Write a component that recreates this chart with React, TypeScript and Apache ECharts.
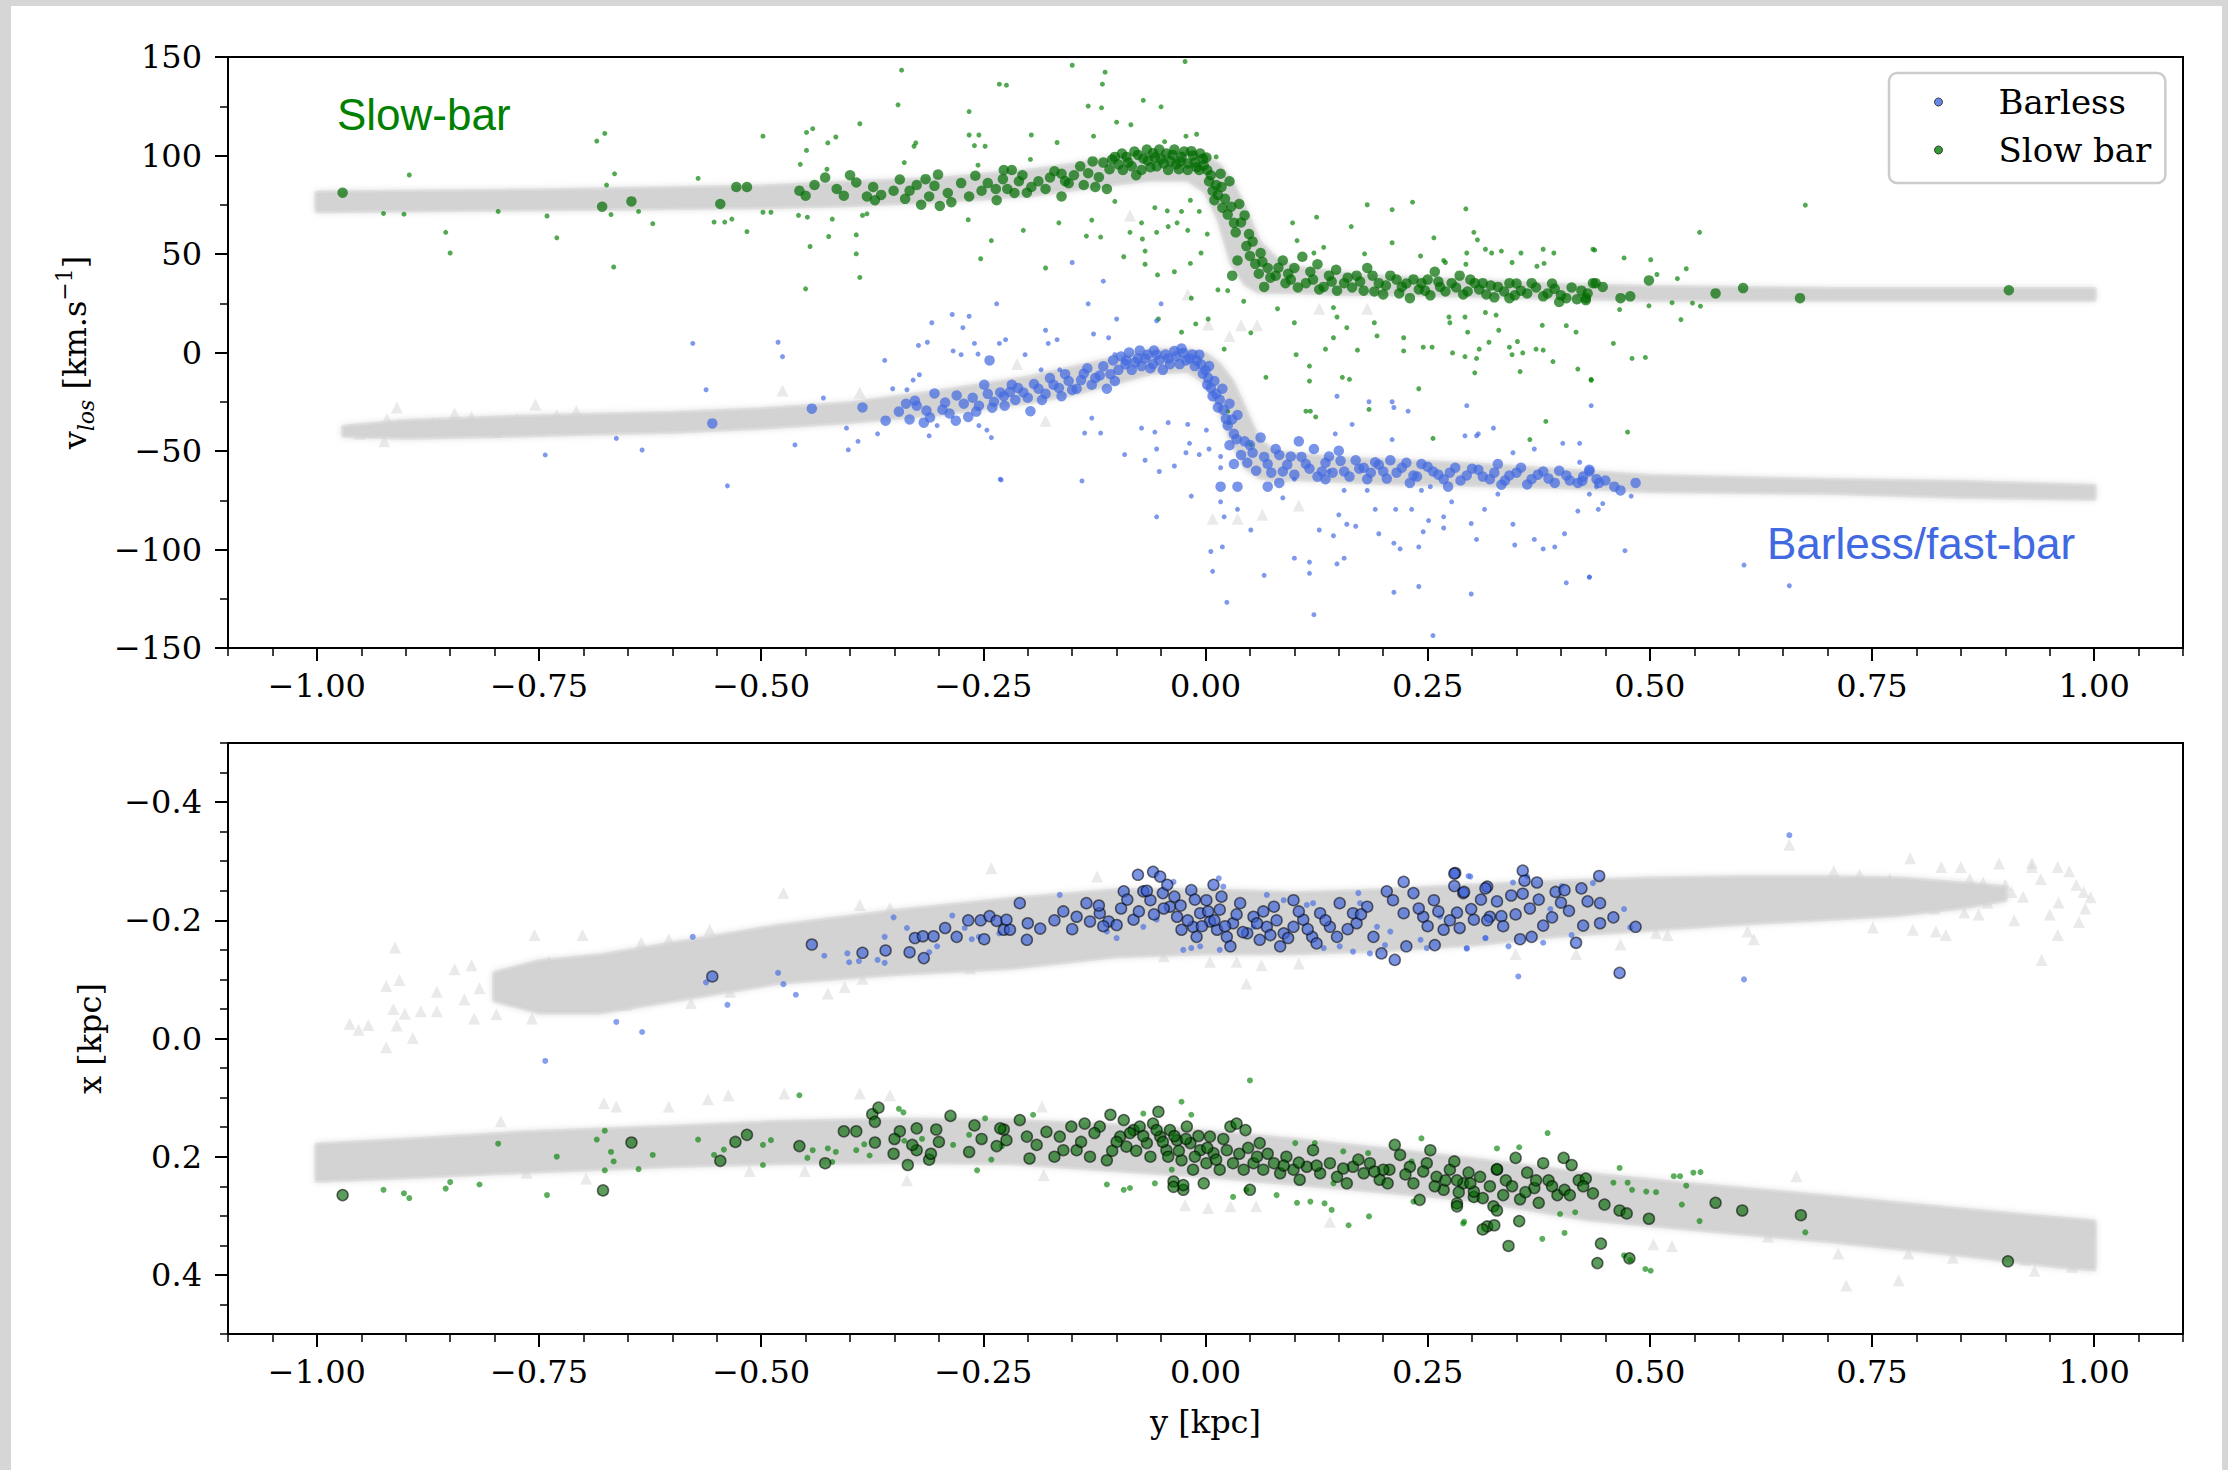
import React, { useEffect, useRef } from "react";
import * as echarts from "echarts";

// ---------- tick labels ----------
const Y_KPC_TICKS = [-1, -0.75, -0.5, -0.25, 0, 0.25, 0.5, 0.75, 1];
const X_KPC_TICKS = [-0.4, -0.2, 0, 0.2, 0.4];

// ---------- simulation bands: [y, low, high] ----------
const TOP_SLOW_BAND = [
  [-1.0, 72, 81], [-0.75, 73, 82], [-0.5, 74, 84], [-0.4, 75, 86], [-0.3, 77, 88], [-0.2, 80, 92],
  [-0.15, 83, 95], [-0.1, 86, 99], [-0.06, 88, 101], [-0.02, 88, 101], [0.0, 82, 99], [0.015, 68, 95],
  [0.03, 45, 86], [0.045, 35, 72], [0.06, 31, 56], [0.08, 31, 47], [0.1, 31, 43], [0.15, 30, 40],
  [0.2, 30, 38], [0.3, 29, 36], [0.4, 28, 34], [0.5, 27, 33], [0.7, 27, 32], [1.0, 27, 32],
];
const TOP_BARLESS_BAND = [
  [-0.97, -42, -38], [-0.9, -43, -35], [-0.78, -42, -33], [-0.7, -41, -32], [-0.6, -40, -31],
  [-0.5, -38, -29], [-0.4, -35, -26], [-0.3, -31, -20], [-0.2, -25, -13], [-0.15, -21, -8], [-0.1, -15, -3],
  [-0.06, -10, 1], [-0.02, -9, 1], [0.0, -15, -1], [0.015, -28, -6], [0.03, -45, -15], [0.045, -58, -30],
  [0.06, -63, -45], [0.08, -65, -51], [0.1, -64, -52], [0.15, -65, -54], [0.2, -66, -55],
  [0.3, -67, -57], [0.4, -68, -60], [0.5, -70, -63], [0.7, -71, -65], [0.85, -73, -66], [1.0, -74, -68],
];
const BOT_BARLESS_BAND = [
  [-0.8, -0.11, -0.065], [-0.75, -0.13, -0.045], [-0.68, -0.14, -0.045], [-0.6, -0.16, -0.065],
  [-0.48, -0.19, -0.095], [-0.35, -0.215, -0.11], [-0.22, -0.235, -0.12], [-0.1, -0.25, -0.14],
  [0.0, -0.25, -0.145], [0.1, -0.245, -0.145], [0.2, -0.25, -0.15], [0.3, -0.258, -0.16],
  [0.4, -0.265, -0.175], [0.5, -0.27, -0.185], [0.6, -0.272, -0.195], [0.7, -0.272, -0.203],
  [0.78, -0.27, -0.21], [0.85, -0.262, -0.222], [0.9, -0.255, -0.235],
];
const BOT_SLOW_BAND = [
  [-1.0, 0.18, 0.24], [-0.9, 0.172, 0.234], [-0.77, 0.16, 0.225], [-0.6, 0.15, 0.215],
  [-0.48, 0.142, 0.21], [-0.35, 0.138, 0.208], [-0.22, 0.14, 0.21], [-0.1, 0.148, 0.222],
  [0.0, 0.158, 0.232], [0.1, 0.172, 0.245], [0.2, 0.188, 0.258], [0.3, 0.205, 0.272],
  [0.43, 0.23, 0.305], [0.55, 0.248, 0.322], [0.7, 0.268, 0.342], [0.85, 0.29, 0.365],
  [0.96, 0.305, 0.385], [1.0, 0.31, 0.39],
];

// ---------- sparse simulation particles (triangles) ----------
const TOP_SIM_TRI = [
  [-0.963, -39.4], [-0.952, -41.3], [-0.94, -40.4], [-0.924, -45.1], [-0.921, -33.7], [-0.91, -27.9],
  [-0.907, -36.5], [-0.896, -39.4], [-0.87, -35.6], [-0.865, -39.4], [-0.845, -30.8], [-0.837, -38.4],
  [-0.826, -32.7], [-0.817, -36.5], [-0.798, -40.4], [-0.786, -37.5], [-0.775, -33.7], [-0.764, -38.4],
  [-0.754, -26.4], [-0.742, -36.5], [-0.73, -31.7], [-0.708, -29.8], [-0.476, -19.3], [-0.389, -20.3],
  [0.003, 14.2], [0.027, 8.4], [0.04, 13.8], [0.058, 13.8], [-0.02, 29.5], [0.008, -84.4], [0.036, -84.4],
  [0.064, -82.4], [0.105, -77.7], [0.182, 22.2], [0.128, 22.2], [-0.212, -5.9], [-0.18, -34.6], [-0.085, 69.6],
];
const BOT_SIM_TRI = [
  [-0.963, -0.025], [-0.953, -0.015], [-0.942, -0.023], [-0.922, 0.015], [-0.912, -0.154], [-0.922, -0.089],
  [-0.907, -0.099], [-0.914, -0.05], [-0.901, -0.042], [-0.91, -0.022], [-0.892, -0.001], [-0.883, -0.046],
  [-0.865, -0.079], [-0.865, -0.046], [-0.845, -0.117], [-0.826, -0.124], [-0.834, -0.066], [-0.817, -0.085],
  [-0.823, -0.034], [-0.798, -0.041], [-0.775, -0.066], [-0.758, -0.034], [-0.755, -0.175], [-0.739, -0.13],
  [-0.73, -0.105], [-0.708, -0.111], [-0.701, -0.175], [-0.635, -0.162], [-0.604, -0.168], [-0.558, -0.184],
  [-0.475, -0.246], [-0.389, -0.226], [-0.355, -0.221], [-0.241, -0.288], [-0.406, -0.087], [-0.386, -0.101],
  [-0.425, -0.076], [-0.265, -0.119], [-0.652, -0.057], [-0.579, -0.06], [-0.535, -0.079],
  [-0.677, 0.109], [-0.663, 0.115], [-0.793, 0.14], [-0.604, 0.115], [-0.56, 0.103], [-0.537, 0.096],
  [-0.474, 0.093], [-0.389, 0.093], [-0.355, 0.096], [-0.764, 0.227], [-0.697, 0.237], [-0.513, 0.224],
  [-0.336, 0.24], [-0.451, 0.224], [-0.023, 0.282], [0.003, 0.287], [0.028, 0.284], [0.057, 0.284],
  [0.14, 0.31], [0.046, -0.093], [0.005, -0.13], [0.035, -0.13], [0.063, -0.124], [0.105, -0.127],
  [-0.122, -0.274], [-0.213, -0.144], [-0.179, -0.144], [-0.151, -0.147], [-0.047, -0.139], [-0.184, 0.115],
  [-0.182, 0.231], [0.793, -0.305], [0.828, -0.29], [0.893, -0.296], [0.93, -0.297], [0.959, -0.29],
  [0.972, -0.283], [0.988, -0.248], [0.996, -0.239], [0.751, -0.188], [0.796, -0.184], [0.822, -0.181],
  [0.833, -0.175], [0.959, -0.175], [0.983, -0.197], [0.941, -0.133], [0.854, -0.213], [0.875, -0.264],
  [0.907, -0.248], [0.77, -0.27], [0.736, -0.277], [0.707, -0.283], [0.617, -0.168], [0.61, -0.181],
  [0.507, -0.178], [0.52, -0.175], [0.467, -0.159], [0.417, -0.143], [0.349, -0.143], [0.657, -0.328],
  [0.8, -0.26], [0.84, -0.25], [0.86, -0.27], [0.88, -0.23], [0.9, -0.26], [0.92, -0.24], [0.94, -0.27],
  [0.96, -0.23], [0.98, -0.26], [0.82, -0.22], [0.87, -0.21], [0.91, -0.2], [0.95, -0.21], [0.99, -0.22],
  [0.85, -0.29], [0.93, -0.29],
  [0.665, 0.233], [0.633, 0.335], [0.712, 0.364], [0.78, 0.409], [0.721, 0.418], [0.504, 0.348],
  [0.525, 0.351], [0.988, 0.364], [0.996, 0.32], [0.975, 0.386], [0.933, 0.393], [0.854, 0.297],
  [0.822, 0.291], [0.791, 0.364], [0.841, 0.371], [0.922, 0.374],
];

// ---------- top panel: line-of-sight velocity ----------
const TOP_SLOW_BIG = [
  [-0.971, 81.1], [-0.679, 74], [-0.646, 76.7], [-0.546, 75.4], [-0.528, 84], [-0.516, 84], [-0.457, 82.1],
  [-0.45, 79.6], [-0.428, 88.8], [-0.407, 79.6], [-0.393, 86.3], [-0.381, 79.2], [-0.374, 84], [-0.372, 77.3],
  [-0.351, 82.1], [-0.344, 87.8], [-0.333, 82.1], [-0.325, 85], [-0.32, 75], [-0.311, 79.2], [-0.305, 84.6],
  [-0.301, 90.3], [-0.299, 74.4], [-0.286, 76.3], [-0.266, 79.2], [-0.259, 89.7], [-0.252, 82.1], [-0.235, 77.3],
  [-0.227, 92.6], [-0.218, 92.6], [-0.223, 83], [-0.21, 86.9], [-0.201, 81.1], [-0.188, 86.9], [-0.175, 88.8],
  [-0.162, 79.2], [-0.162, 90.7], [-0.154, 85.9], [-0.141, 94.5], [-0.137, 85], [-0.124, 84], [-0.115, 96.4],
  [-0.111, 83], [-0.102, 99.3], [-0.093, 92.6], [-0.089, 99.3], [-0.083, 94.5], [-0.076, 100.3], [-0.072, 92.6],
  [-0.065, 97.4], [-0.059, 101.2], [-0.055, 94.5], [-0.05, 98.3], [-0.042, 92.6], [-0.037, 100.3], [-0.033, 95.5],
  [-0.027, 99.3], [-0.02, 92.6], [-0.016, 102.2], [-0.012, 96.4], [-0.007, 92.6], [-0.003, 98.3], [0.002, 92.6],
  [0.004, 86.9], [0.008, 82.1], [0.01, 77.3], [0.017, 90.7], [0.019, 73.5], [0.027, 86.9], [0.032, 65.8],
  [0.038, 75.4], [0.044, 69.6], [0.049, 60.1], [0.053, 56.3], [0.036, 46.7], [0.03, 39], [0.062, 50.5],
  [0.07, 42.9], [0.066, 33.3], [0.079, 39], [0.087, 46.7], [0.09, 35.2], [0.1, 42.9], [0.109, 48.6],
  [0.113, 35.2], [0.126, 44.8], [0.133, 33.3], [0.139, 39], [0.156, 35.2], [0.17, 39], [0.182, 42.9],
  [0.195, 35.2], [0.208, 39], [0.221, 33.3], [0.234, 37.1], [0.247, 31.4], [0.258, 41], [0.264, 33.3],
  [0.277, 35.2], [0.29, 29.5], [0.303, 35.2], [0.316, 29.5], [0.329, 33.3], [0.342, 27.6], [0.355, 31.4],
  [0.367, 35.2], [0.38, 28.5], [0.393, 32.3], [0.406, 27.6], [0.423, 31.4], [0.436, 35.2], [0.148, 31.4],
  [0.178, 31.4], [0.2, 29.5], [0.23, 27.6], [0.286, 39], [0.342, 35.2], [0.398, 25.6], [0.428, 26.6],
  [0.243, 35.2], [0.312, 35.2], [0.428, 27.6], [0.439, 35.2], [0.447, 33.3], [0.467, 27.6], [0.478, 28.5],
  [0.499, 36.6], [0.574, 30], [0.605, 32.7], [0.669, 27.6], [0.904, 31.6],
  [-0.098, 95.5], [-0.094, 101], [-0.087, 96.5], [-0.08, 102], [-0.078, 90], [-0.07, 98.5], [-0.066, 103],
  [-0.062, 94], [-0.057, 99], [-0.052, 103], [-0.047, 96], [-0.044, 101], [-0.039, 97], [-0.035, 103],
  [-0.03, 93], [-0.028, 97], [-0.024, 102], [-0.02, 96], [-0.014, 100], [-0.01, 94], [-0.006, 101],
  [-0.002, 95], [0.001, 99], [0.006, 90], [0.012, 85], [0.014, 80], [0.018, 84], [0.022, 78], [0.025, 70],
  [0.029, 74], [0.034, 61], [0.04, 66], [0.046, 54], [0.05, 49], [0.056, 45], [0.06, 40], [0.064, 46],
  [0.073, 38], [0.082, 43], [0.093, 40], [0.096, 37], [0.104, 33], [0.118, 41], [0.121, 37], [0.128, 32],
  [0.142, 36], [0.147, 42], [0.16, 38], [0.165, 33], [0.174, 36], [0.188, 39], [0.19, 31], [0.203, 34],
  [0.215, 37], [0.218, 30], [0.226, 35], [0.24, 32], [0.25, 37], [0.253, 29], [0.262, 36], [0.27, 31],
  [0.282, 33], [0.295, 31], [0.298, 37], [0.308, 32], [0.321, 34], [0.325, 28], [0.336, 31], [0.348, 29],
  [0.35, 35], [0.362, 30], [0.372, 33], [0.385, 30], [0.39, 35], [0.4, 29], [0.412, 33], [0.418, 27],
  [0.43, 30], [-0.245, 86], [-0.236, 83], [-0.228, 88], [-0.215, 81], [-0.206, 90], [-0.196, 84],
  [-0.18, 83], [-0.17, 92], [-0.158, 87], [-0.148, 90], [-0.132, 91], [-0.127, 97], [-0.12, 89],
  [-0.108, 93], [-0.105, 98], [-0.44, 85], [-0.415, 83], [-0.4, 90], [-0.365, 80], [-0.338, 78],
  [-0.315, 88], [-0.29, 81], [-0.275, 86],
];
const TOP_SLOW_SMALL = [
  [-0.896, 90.1], [-0.925, 70.6], [-0.902, 70.2], [-0.855, 61], [-0.85, 50.5], [-0.796, 71.6], [-0.741, 69.3],
  [-0.73, 58.2], [-0.685, 107.3], [-0.676, 111.2], [-0.674, 85], [-0.665, 90.7], [-0.669, 70], [-0.666, 43.4],
  [-0.638, 71.6], [-0.622, 65.4], [-0.571, 88.4], [-0.553, 66.2], [-0.541, 66.2], [-0.533, 67.7], [-0.516, 61.4],
  [-0.498, 109.8], [-0.498, 71.2], [-0.489, 71.2], [-0.458, 69.6], [-0.448, 68.7], [-0.449, 111.7], [-0.442, 113.6],
  [-0.449, 102.6], [-0.456, 95.5], [-0.425, 106.4], [-0.416, 109.4], [-0.426, 93], [-0.42, 67.7], [-0.424, 58.9],
  [-0.445, 53.8], [-0.45, 32.3], [-0.393, 59.7], [-0.393, 50.1], [-0.389, 38.1], [-0.389, 116.1], [-0.346, 125.7],
  [-0.342, 143.3], [-0.326, 106.4], [-0.328, 104.7], [-0.339, 96.4], [-0.386, 69.6], [-0.381, 70.4], [-0.266, 122.3],
  [-0.266, 110.4], [-0.255, 110.4], [-0.26, 105], [-0.248, 104.7], [-0.256, 95.1], [-0.267, 67.4], [-0.241, 56.8],
  [-0.253, 47.6], [-0.232, 136.2], [-0.224, 135.7], [-0.15, 145.8], [-0.113, 142.3], [-0.116, 136.2],
  [-0.023, 147.7], [-0.132, 125.1], [-0.117, 124.2], [-0.07, 128], [-0.05, 124.7], [-0.1, 116.9], [-0.084, 115.6],
  [-0.196, 110.4], [-0.167, 106.6], [-0.126, 109.8], [-0.197, 98], [-0.205, 62], [-0.18, 42.9], [-0.165, 65.8],
  [-0.128, 67.2], [-0.134, 59.1], [-0.118, 58.6], [-0.102, 76.7], [-0.085, 61], [-0.072, 65.8], [-0.071, 57.6],
  [-0.068, 51.5], [-0.092, 48.6], [-0.068, 44.8], [-0.055, 61], [-0.054, 39.4], [-0.042, 63.9], [-0.035, 41],
  [-0.032, 65.8], [-0.02, 62], [-0.017, 45.2], [-0.005, 50.5], [0.002, 60.1], [-0.007, 71.6], [-0.043, 71.9],
  [-0.057, 73.5], [-0.027, 71.6], [-0.017, 77.3], [-0.022, 109.8], [-0.01, 110.8], [-0.046, 107], [0.012, 99.3],
  [-0.016, 27.6], [0.014, 31.8], [0.025, 31.4], [-0.053, 17], [-0.011, 14.5], [-0.027, 10.3], [0.003, 17],
  [0.021, 1.7], [0.051, 10], [0.043, 26], [0.081, 22.2], [0.1, 15.1], [0.102, -1.1], [0.117, -6.9],
  [0.117, -14.5], [0.068, -12.6], [0.118, -29.8], [0.124, -32.7], [0.098, 65.8], [0.125, 68.7], [0.103, 56.8],
  [0.122, 50.5], [0.133, 53.4], [0.144, 22.8], [0.148, 18], [0.159, 12.6], [0.135, 1.7], [0.144, 7.5],
  [0.154, -12.6], [0.162, -13.6], [0.171, 1.2], [0.182, 75], [0.21, 72.5], [0.233, 76.3], [0.164, 63.9],
  [0.179, 50.1], [0.21, 55.7], [0.19, 15.1], [0.193, 8.4], [0.223, 7.5], [0.223, 0.8], [0.245, 2.7],
  [0.255, 2.7], [0.24, -18.4], [0.257, 58.2], [0.242, 49], [0.268, 46.7], [0.293, 72.9], [0.302, 61],
  [0.306, 57.2], [0.315, 52.4], [0.294, 50.5], [0.322, 50.5], [0.333, 51.5], [0.355, 50.5], [0.345, 45.7],
  [0.38, 52.4], [0.392, 50.5], [0.373, 43.8], [0.381, 45.2], [0.27, 45.7], [0.293, 44.8], [0.436, 52.4],
  [0.274, 18], [0.275, 15.1], [0.292, 18], [0.295, 10.3], [0.315, 20.3], [0.327, 19], [0.33, 11.3],
  [0.278, -0.2], [0.308, 1.7], [0.319, 5.2], [0.292, -2.1], [0.305, -3], [0.303, -10.3], [0.342, 2.7],
  [0.351, 5.6], [0.345, -1.1], [0.357, -0.2], [0.354, -9.7], [0.372, 1.7], [0.38, 1.2], [0.379, 13.8],
  [0.391, -4.6], [0.417, 10.3], [0.406, 13.6], [0.419, -8.4], [0.434, -13.6], [0.383, -35], [0.365, -44.2],
  [0.256, -43.6], [0.184, -28.9], [0.113, -29.8], [0.025, -29.8], [0.026, -35.6], [0.051, -46.7],
  [0.438, 52], [0.471, 48], [0.501, 47.1], [0.508, 39.6], [0.531, 37.5], [0.541, 42.5], [0.556, 61],
  [0.675, 74.8], [0.466, 21.8], [0.499, 23.7], [0.525, 25.3], [0.548, 25.1], [0.557, 23.5], [0.535, 16.7],
  [0.459, 4.6], [0.48, -3], [0.495, -2.5], [0.434, -14.1], [0.475, -40.4],
];
const TOP_BARLESS_BIG = [
  [-0.555, -36], [-0.443, -28.5], [-0.386, -27.9], [-0.36, -34.6], [-0.333, -34], [-0.317, -35.6], [-0.327, -24.5],
  [-0.325, -27], [-0.314, -29.5], [-0.305, -20.8], [-0.293, -25.4], [-0.28, -21.8], [-0.281, -34.6], [-0.267, -32.7],
  [-0.255, -27], [-0.249, -16.4], [-0.243, -4], [-0.238, -25], [-0.231, -20.3], [-0.227, -22.2], [-0.218, -16.4],
  [-0.214, -24.1], [-0.205, -20.3], [-0.197, -29.8], [-0.188, -18.4], [-0.184, -24.1], [-0.171, -16.4],
  [-0.162, -22.2], [-0.154, -14.5], [-0.145, -18.4], [-0.137, -10.7], [-0.128, -16.4], [-0.119, -11.7],
  [-0.111, -18.4], [-0.102, -14.5], [-0.098, -8.8], [-0.089, -4], [-0.083, -8.8], [-0.076, -3], [-0.072, -6.9],
  [-0.065, -1.1], [-0.059, -5.9], [-0.055, -1.1], [-0.048, -8.8], [-0.042, -3], [-0.035, 0.8], [-0.029, -5.9],
  [-0.025, -0.2], [-0.018, -3], [-0.012, -6.9], [-0.007, -1.1], [-0.003, -10.7], [0.002, -16.4], [0.004, -6.9],
  [0.008, -22.2], [0.01, -14.5], [0.014, -27.9], [0.019, -18.4], [0.023, -33.7], [0.027, -26], [0.032, -41.3],
  [0.036, -31.7], [0.027, -47.1], [0.032, -56.6], [0.017, -68.1], [0.044, -45.1], [0.053, -50.9], [0.062, -43.2],
  [0.07, -56.6], [0.079, -49], [0.087, -60.4], [0.096, -52.8], [0.105, -45.1], [0.113, -56.6], [0.122, -49],
  [0.131, -60.4], [0.139, -52.8], [0.15, -49.9], [0.156, -60.4], [0.169, -54.7], [0.178, -58.5], [0.191, -55.7],
  [0.2, -60.4], [0.208, -54.7], [0.221, -58.5], [0.234, -62.4], [0.243, -56.6], [0.256, -60.4], [0.268, -64.3],
  [0.281, -58.5], [0.294, -62.4], [0.307, -59.5], [0.32, -64.3], [0.329, -56.6], [0.342, -62.4], [0.355, -58.5],
  [0.367, -64.3], [0.38, -60.4], [0.393, -66.2], [0.406, -62.4], [0.419, -66.2], [0.432, -60.4], [0.44, -64.3],
  [0.083, -66.2], [0.036, -68.1], [0.07, -68.1], [0.135, -64.3], [0.182, -64.3], [0.23, -66.2], [0.273, -68.1],
  [0.333, -67.1], [0.424, -65.2], [0.432, -59.5], [0.443, -66.2], [0.46, -68.1], [0.467, -70], [0.484, -66.2],
  [-0.345, -30], [-0.337, -26], [-0.31, -33], [-0.296, -29], [-0.288, -31], [-0.272, -26], [-0.262, -23],
  [-0.258, -30], [-0.245, -21], [-0.24, -28], [-0.226, -27], [-0.22, -20], [-0.211, -18], [-0.2, -23],
  [-0.193, -16], [-0.18, -21], [-0.175, -13], [-0.165, -18], [-0.158, -11], [-0.15, -19], [-0.14, -14],
  [-0.133, -8], [-0.124, -13], [-0.115, -7], [-0.107, -11], [-0.104, -4], [-0.095, -2], [-0.09, -6],
  [-0.086, 0], [-0.079, -5], [-0.074, 1], [-0.068, -3], [-0.062, -8], [-0.058, 1], [-0.052, -4], [-0.045, -1],
  [-0.04, -6], [-0.033, -2], [-0.027, 2], [-0.022, -4], [-0.015, -1], [-0.01, -4], [-0.005, -6], [0, -9],
  [0.003, -13], [0.006, -18], [0.012, -21], [0.016, -24], [0.02, -29], [0.025, -37], [0.03, -34], [0.035, -44],
  [0.04, -52], [0.047, -56], [0.05, -47], [0.057, -60], [0.066, -53], [0.074, -61], [0.083, -52], [0.092, -57],
  [0.1, -62], [0.108, -53], [0.117, -59], [0.126, -63], [0.135, -56], [0.143, -61], [0.152, -55], [0.162, -63],
  [0.173, -59], [0.186, -61], [0.195, -57], [0.204, -64], [0.215, -61], [0.226, -56], [0.238, -63], [0.25, -58],
  [0.262, -62], [0.275, -61], [0.287, -65], [0.3, -59], [0.312, -63], [0.325, -61], [0.337, -65], [0.35, -61],
  [0.362, -67], [0.374, -62], [0.386, -64], [0.398, -60], [0.41, -65], [0.425, -63], [0.45, -65],
];
const TOP_BARLESS_SMALL = [
  [-0.577, 4.6], [-0.481, 5.2], [-0.476, -2.1], [-0.562, -18.9], [-0.43, -23.1], [-0.663, -43.6], [-0.634, -49.5],
  [-0.743, -52], [-0.538, -67.7], [-0.462, -46.9], [-0.404, -38.4], [-0.391, -45.1], [-0.402, -49.4], [-0.369, -41.3],
  [-0.361, -4], [-0.352, -18.4], [-0.336, -18.9], [-0.329, -14], [-0.322, -11.3], [-0.323, 3.6], [-0.313, 5.2],
  [-0.308, 15.1], [-0.285, 19.3], [-0.266, 18.4], [-0.273, 12.6], [-0.284, 0.8], [-0.275, -1.1], [-0.26, 4.6],
  [-0.256, -0.8], [-0.235, 24.7], [-0.232, 4.6], [-0.311, -42.3], [-0.302, -37.1], [-0.255, -37.1], [-0.246, -39.4],
  [-0.241, -43.2], [-0.23, -64.7], [-0.15, 45.7], [-0.115, 36.2], [-0.132, 24.7], [-0.05, 24.7], [-0.1, 17],
  [-0.18, 11.3], [-0.177, 4.6], [-0.167, 6.5], [-0.126, 9.4], [-0.109, 7.5], [-0.225, 6.5], [-0.203, -1.1],
  [-0.185, -8.8], [-0.164, -8.8], [-0.055, 16.1], [-0.102, -1.1], [-0.231, -64.3], [-0.139, -65.2], [-0.128, -33.3],
  [-0.136, -40.9], [-0.118, -40.9], [-0.091, -51.8], [-0.072, -38.4], [-0.068, -54.7], [-0.057, -40.4],
  [-0.055, -49], [-0.052, -60.4], [-0.055, -83.4], [-0.042, -35.6], [-0.035, -57.6], [-0.022, -50.9],
  [-0.02, -36.5], [-0.016, -72.9], [-0.018, -46.1], [-0.007, -51.8], [0.001, -39.4], [0.004, -49], [0.006, -101],
  [0.008, -111.1], [0.017, -75.8], [0.019, -98.7], [0.021, -83.4], [0.024, -126.8], [0.017, -58.5], [0.017, -52.8],
  [0.036, -79.6], [0.051, -90.1], [0.066, -113.1], [0.087, -73.8], [0.1, -104.4], [0.1, -64.3], [0.117, -106.4],
  [0.117, -112.1], [0.122, -133.1], [0.128, -90.1], [0.144, -93], [0.148, -107.3], [0.15, -82.4], [0.156, -104.4],
  [0.159, -87.2], [0.169, -88.2], [0.148, -22.2], [0.184, -25], [0.165, -36.5], [0.146, -41.3], [0.21, -25],
  [0.212, -27.9], [0.228, -29.8], [0.21, -44.2], [0.191, -79.6], [0.195, -92], [0.212, -96.8], [0.219, -99.7],
  [0.212, -121.7], [0.232, -79.6], [0.24, -98.7], [0.245, -91], [0.251, -85.3], [0.256, -143.7], [0.24, -118.8],
  [0.268, -83.4], [0.268, -89.1], [0.294, -27], [0.292, -42.3], [0.314, -79.6], [0.299, -86.8], [0.305, -94.9],
  [0.299, -122.6], [0.324, -38.4], [0.346, -87.2], [0.348, -97.7], [0.37, -94.9], [0.38, -99.7], [0.393, -98.7],
  [0.404, -92], [0.406, -116.9], [0.432, -114], [0.419, -80.5], [0.421, -55.7], [0.44, -68.1], [0.402, -46.1],
  [0.421, -46.1], [0.37, -49], [0.346, -50.9], [0.329, -71.9], [0.277, -75.8], [0.243, -70], [0.214, -79.6],
  [0.182, -70], [0.156, -70], [0.139, -60.4], [0.305, -42.3], [0.307, -41.3], [0.253, -68.1], [0.434, -27],
  [0.432, -71.9], [0.442, -79.6], [0.447, -76.7], [0.479, -72.9], [0.472, -100.6], [0.432, -114], [0.606, -107.9],
  [0.657, -118.4],
];

// ---------- bottom panel: positions ----------
const BOT_BARLESS_BIG = [
  [-0.443, -0.159], [-0.555, -0.105], [-0.386, -0.145], [-0.36, -0.149], [-0.333, -0.146], [-0.317, -0.136],
  [-0.327, -0.17], [-0.318, -0.173], [-0.306, -0.173], [-0.293, -0.187], [-0.28, -0.172], [-0.267, -0.2],
  [-0.253, -0.2], [-0.243, -0.207], [-0.235, -0.199], [-0.249, -0.168], [-0.227, -0.184], [-0.22, -0.184],
  [-0.201, -0.167], [-0.186, -0.186], [-0.209, -0.229], [-0.224, -0.201], [-0.16, -0.215], [-0.145, -0.206],
  [-0.134, -0.229], [-0.13, -0.198], [-0.119, -0.212], [-0.109, -0.198], [-0.1, -0.192], [-0.092, -0.249],
  [-0.081, -0.201], [-0.076, -0.277], [-0.07, -0.249], [-0.059, -0.282], [-0.051, -0.274], [-0.062, -0.234],
  [-0.048, -0.246], [-0.04, -0.223], [-0.032, -0.206], [-0.027, -0.184], [-0.016, -0.251], [-0.014, -0.189],
  [-0.01, -0.172], [-0.006, -0.212], [0.001, -0.234], [0.005, -0.198], [0.009, -0.26], [0.013, -0.184],
  [0.016, -0.218], [0.024, -0.172], [0.031, -0.195], [0.028, -0.156], [0.039, -0.229], [0.047, -0.178],
  [0.054, -0.206], [0.061, -0.167], [0.069, -0.189], [0.077, -0.223], [0.084, -0.156], [0.088, -0.178],
  [0.099, -0.234], [0.099, -0.189], [0.11, -0.201], [0.12, -0.172], [0.129, -0.212], [0.14, -0.189],
  [0.151, -0.229], [0.148, -0.172], [0.17, -0.195], [0.182, -0.223], [0.189, -0.172], [0.198, -0.144],
  [0.204, -0.249], [0.213, -0.133], [0.223, -0.265], [0.226, -0.156], [0.234, -0.246], [0.245, -0.206],
  [0.257, -0.234], [0.258, -0.158], [0.268, -0.184], [0.281, -0.28], [0.29, -0.246], [0.302, -0.201],
  [0.317, -0.257], [0.32, -0.206], [0.223, -0.212], [0.211, -0.234], [0.166, -0.212], [0.125, -0.161],
  [0.28, -0.279], [0.28, -0.258], [0.291, -0.248], [0.283, -0.213], [0.286, -0.187], [0.299, -0.219],
  [0.315, -0.254], [0.317, -0.2], [0.328, -0.232], [0.333, -0.207], [0.344, -0.242], [0.349, -0.21],
  [0.357, -0.284], [0.357, -0.245], [0.359, -0.267], [0.354, -0.168], [0.367, -0.172], [0.373, -0.264],
  [0.375, -0.235], [0.38, -0.191], [0.394, -0.248], [0.404, -0.251], [0.409, -0.216], [0.417, -0.162],
  [0.423, -0.254], [0.425, -0.191], [0.43, -0.232], [0.443, -0.275], [0.444, -0.229], [0.444, -0.195],
  [0.459, -0.205], [0.484, -0.189], [0.466, -0.111],
  [-0.095, -0.22], [-0.088, -0.235], [-0.075, -0.215], [-0.066, -0.25], [-0.058, -0.21], [-0.047, -0.22],
  [-0.043, -0.26], [-0.035, -0.24], [-0.028, -0.225], [-0.02, -0.2], [-0.012, -0.235], [-0.004, -0.19],
  [0.003, -0.215], [0.01, -0.2], [0.018, -0.24], [0.022, -0.19], [0.035, -0.21], [0.042, -0.18],
  [0.058, -0.195], [0.065, -0.215], [0.073, -0.175], [0.08, -0.2], [0.093, -0.17], [0.105, -0.215],
  [0.115, -0.185], [0.135, -0.2], [0.16, -0.185], [0.175, -0.21], [0.24, -0.22], [0.25, -0.19],
  [0.262, -0.215], [0.275, -0.2], [0.31, -0.235], [0.335, -0.19], [0.365, -0.22], [0.39, -0.205],
  [0.4, -0.23], [-0.2, -0.195], [-0.17, -0.2], [-0.15, -0.185], [-0.12, -0.225], [-0.115, -0.19],
];
const BOT_BARLESS_SMALL = [
  [-0.577, -0.172], [-0.351, -0.205], [-0.429, -0.14], [-0.403, -0.144], [-0.401, -0.129], [-0.39, -0.131],
  [-0.369, -0.133], [-0.361, -0.172], [-0.361, -0.128], [-0.336, -0.187], [-0.311, -0.146], [-0.302, -0.156],
  [-0.285, -0.208], [-0.271, -0.187], [-0.263, -0.168], [-0.255, -0.172], [-0.232, -0.178], [-0.562, -0.095],
  [-0.538, -0.057], [-0.481, -0.111], [-0.475, -0.092], [-0.461, -0.074], [-0.663, -0.028], [-0.634, -0.011],
  [-0.743, 0.038], [-0.164, -0.243], [-0.111, -0.181], [-0.1, -0.17], [-0.07, -0.189], [-0.055, -0.201],
  [-0.036, -0.265], [-0.025, -0.15], [-0.016, -0.153], [-0.006, -0.156], [0.015, -0.271], [0.02, -0.257],
  [0.016, -0.15], [0.069, -0.243], [0.088, -0.234], [0.114, -0.226], [0.133, -0.153], [0.151, -0.156],
  [0.166, -0.147], [0.172, -0.246], [0.185, -0.144], [0.202, -0.158], [0.208, -0.181], [0.242, -0.167],
  [0.249, -0.153], [0.264, -0.206], [0.294, -0.153], [0.298, -0.274], [0.315, -0.17], [0.174, -0.229],
  [0.193, -0.189], [0.054, -0.189], [0.121, -0.229], [0.296, -0.275], [0.315, -0.17], [0.294, -0.152],
  [0.341, -0.156], [0.352, -0.105], [0.346, -0.264], [0.362, -0.274], [0.38, -0.162], [0.388, -0.219],
  [0.401, -0.258], [0.412, -0.175], [0.436, -0.263], [0.471, -0.219], [0.478, -0.188], [0.606, -0.1],
  [0.657, -0.344],
];
const BOT_SLOW_BIG = [
  [-0.971, 0.265], [-0.678, 0.257], [-0.646, 0.176], [-0.546, 0.207], [-0.529, 0.175], [-0.516, 0.163],
  [-0.457, 0.182], [-0.428, 0.211], [-0.407, 0.157], [-0.393, 0.157], [-0.372, 0.176], [-0.375, 0.128],
  [-0.368, 0.117], [-0.372, 0.141], [-0.351, 0.195], [-0.344, 0.157], [-0.335, 0.214], [-0.325, 0.152],
  [-0.325, 0.189], [-0.311, 0.205], [-0.309, 0.195], [-0.303, 0.154], [-0.287, 0.131], [-0.266, 0.192],
  [-0.26, 0.147], [-0.252, 0.17], [-0.235, 0.182], [-0.227, 0.154], [-0.231, 0.152], [-0.224, 0.172],
  [-0.209, 0.138], [-0.201, 0.166], [-0.198, 0.203], [-0.179, 0.158], [-0.164, 0.166], [-0.16, 0.189],
  [-0.151, 0.149], [-0.145, 0.189], [-0.136, 0.144], [-0.13, 0.2], [-0.119, 0.149], [-0.111, 0.206],
  [-0.107, 0.129], [-0.096, 0.166], [-0.092, 0.138], [-0.089, 0.183], [-0.081, 0.155], [-0.074, 0.149],
  [-0.066, 0.177], [-0.059, 0.144], [-0.053, 0.124], [-0.051, 0.166], [-0.044, 0.189], [-0.04, 0.155],
  [-0.036, 0.242], [-0.032, 0.172], [-0.027, 0.206], [-0.025, 0.256], [-0.021, 0.149], [-0.017, 0.177],
  [-0.014, 0.222], [-0.006, 0.189], [-0.002, 0.245], [0.001, 0.211], [0.005, 0.166], [0.009, 0.194],
  [0.016, 0.222], [0.024, 0.189], [0.028, 0.149], [0.031, 0.211], [0.035, 0.144], [0.045, 0.155],
  [0.043, 0.222], [0.05, 0.256], [0.054, 0.211], [0.061, 0.177], [0.065, 0.222], [0.077, 0.211],
  [0.084, 0.228], [0.091, 0.2], [0.099, 0.222], [0.106, 0.239], [0.114, 0.217], [0.121, 0.189],
  [0.129, 0.228], [0.14, 0.211], [0.148, 0.234], [0.159, 0.245], [0.166, 0.217], [0.178, 0.228],
  [0.185, 0.211], [0.196, 0.239], [0.207, 0.222], [0.213, 0.18], [0.219, 0.197], [0.23, 0.217],
  [0.234, 0.245], [0.241, 0.273], [0.249, 0.211], [0.253, 0.189], [0.26, 0.234], [0.268, 0.256],
  [0.275, 0.222], [0.283, 0.279], [0.29, 0.245], [0.302, 0.268], [0.309, 0.234], [0.317, 0.318],
  [0.324, 0.284], [0.328, 0.222], [-0.036, 0.251], [-0.025, 0.248], [0.2, 0.222], [0.28, 0.208],
  [0.283, 0.24], [0.283, 0.284], [0.296, 0.227], [0.302, 0.259], [0.312, 0.323], [0.325, 0.316],
  [0.328, 0.291], [0.328, 0.221], [0.338, 0.24], [0.341, 0.351], [0.349, 0.202], [0.354, 0.272],
  [0.353, 0.309], [0.362, 0.227], [0.37, 0.253], [0.375, 0.278], [0.38, 0.211], [0.386, 0.24],
  [0.396, 0.265], [0.404, 0.256], [0.403, 0.202], [0.412, 0.214], [0.42, 0.24], [0.428, 0.237],
  [0.436, 0.262], [0.449, 0.281], [0.445, 0.347], [0.441, 0.38], [0.466, 0.291], [0.474, 0.296],
  [0.477, 0.372], [0.499, 0.305], [0.574, 0.278], [0.604, 0.291], [0.67, 0.299], [0.903, 0.377],
  [-0.1, 0.175], [-0.085, 0.16], [-0.078, 0.19], [-0.07, 0.165], [-0.062, 0.2], [-0.055, 0.155],
  [-0.048, 0.175], [-0.042, 0.2], [-0.035, 0.165], [-0.03, 0.19], [-0.022, 0.17], [-0.012, 0.2],
  [-0.008, 0.165], [0.002, 0.185], [0.012, 0.205], [0.02, 0.17], [0.038, 0.195], [0.048, 0.185],
  [0.058, 0.2], [0.07, 0.195], [0.088, 0.215], [0.105, 0.21], [0.125, 0.215], [0.155, 0.22],
  [0.172, 0.205], [0.19, 0.225], [0.205, 0.245], [0.225, 0.23], [0.245, 0.225], [0.258, 0.25],
  [0.27, 0.24], [0.285, 0.26], [0.298, 0.245], [0.312, 0.27], [0.32, 0.25], [0.335, 0.265],
  [0.345, 0.25], [0.36, 0.26], [0.372, 0.24], [0.39, 0.25], [0.41, 0.265], [0.425, 0.25],
  [-0.19, 0.18], [-0.17, 0.2], [-0.14, 0.175], [-0.125, 0.16], [-0.105, 0.19], [-0.35, 0.17],
  [-0.33, 0.18], [-0.3, 0.175],
];
const BOT_SLOW_SMALL = [
  [-0.925, 0.256], [-0.902, 0.262], [-0.896, 0.27], [-0.855, 0.254], [-0.85, 0.243], [-0.817, 0.247],
  [-0.796, 0.178], [-0.741, 0.265], [-0.73, 0.2], [-0.685, 0.171], [-0.676, 0.156], [-0.669, 0.192],
  [-0.666, 0.208], [-0.676, 0.223], [-0.638, 0.221], [-0.622, 0.197], [-0.571, 0.171], [-0.553, 0.197],
  [-0.542, 0.188], [-0.498, 0.18], [-0.489, 0.172], [-0.498, 0.214], [-0.457, 0.096], [-0.448, 0.202],
  [-0.442, 0.189], [-0.425, 0.186], [-0.416, 0.192], [-0.42, 0.209], [-0.393, 0.189], [-0.384, 0.179],
  [-0.378, 0.198], [-0.345, 0.119], [-0.34, 0.125], [-0.339, 0.173], [-0.319, 0.17], [-0.284, 0.18],
  [-0.266, 0.163], [-0.257, 0.223], [-0.248, 0.135], [-0.241, 0.205], [-0.229, 0.182], [-0.194, 0.129],
  [-0.07, 0.127], [-0.027, 0.107], [0.05, 0.071], [-0.111, 0.247], [-0.092, 0.256], [-0.085, 0.253],
  [-0.057, 0.245], [-0.038, 0.222], [-0.016, 0.129], [0.08, 0.265], [0.103, 0.278], [0.118, 0.276],
  [0.134, 0.279], [0.142, 0.29], [0.161, 0.316], [0.184, 0.301], [0.101, 0.177], [0.123, 0.177],
  [0.155, 0.191], [0.183, 0.194], [0.234, 0.276], [0.243, 0.169], [0.29, 0.313], [0.232, 0.208],
  [0.144, 0.245], [0.031, 0.268], [0.046, 0.256], [0.291, 0.31], [0.328, 0.186], [0.353, 0.184],
  [0.385, 0.16], [0.379, 0.339], [0.404, 0.329], [0.399, 0.297], [0.416, 0.294], [0.466, 0.219],
  [0.459, 0.244], [0.475, 0.244], [0.48, 0.256], [0.496, 0.259], [0.507, 0.26], [0.527, 0.233],
  [0.534, 0.233], [0.549, 0.227], [0.557, 0.226], [0.541, 0.249], [0.536, 0.281], [0.556, 0.309],
  [0.675, 0.328], [0.471, 0.367], [0.478, 0.375], [0.495, 0.39], [0.501, 0.393],
];

// ---------- styling ----------
const GREEN = "#008000";
const BLUE = "#4169e1";
const GRAY = "#d3d3d3";
const SERIF = "DejaVu Serif";
const minus = (s: string) => s.replace("-", "\u2212");

function bandSeries(band: number[][], xi: number, yi: number) {
  return {
    type: "custom",
    xAxisIndex: xi,
    yAxisIndex: yi,
    silent: true,
    data: band,
    encode: { x: 0, y: [1, 2] },
    renderItem: (params: any, api: any) => {
      if (params.dataIndex !== 0) return null;
      const upper = band.map((r) => api.coord([r[0], r[2]]));
      const lower = band.map((r) => api.coord([r[0], r[1]])).reverse();
      return {
        type: "polygon",
        shape: { points: upper.concat(lower) },
        style: {
          fill: GRAY,
          stroke: "rgba(211,211,211,0.5)",
          lineWidth: 5,
          lineJoin: "round",
          shadowBlur: 6,
          shadowColor: "rgba(200,200,200,0.9)",
        },
      };
    },
  };
}

function scatter(name: string, data: number[][], xi: number, yi: number, size: number, itemStyle: any, symbol = "circle") {
  return {
    type: "scatter",
    name,
    data,
    xAxisIndex: xi,
    yAxisIndex: yi,
    symbol,
    symbolSize: size,
    itemStyle,
    silent: true,
    emphasis: { disabled: true },
  };
}

const tickLine = { color: "#000", width: 2 };
const minorLine = { color: "#000", width: 1.5 };
const labelStyle = { color: "#000", fontFamily: SERIF, fontSize: 32 };

function mainX(grid: number, name?: string) {
  return {
    type: "value",
    gridIndex: grid,
    position: "bottom",
    min: -1.1,
    max: 1.1,
    name,
    nameLocation: "middle",
    nameGap: 72,
    nameTextStyle: { color: "#000", fontFamily: SERIF, fontSize: 32 },
    axisLine: { show: false, onZero: false },
    axisTick: { show: true, customValues: Y_KPC_TICKS, length: 13, lineStyle: tickLine },
    axisLabel: { ...labelStyle, margin: 22, customValues: Y_KPC_TICKS, formatter: (v: number) => minus(v.toFixed(2)) },
    splitLine: { show: false },
  };
}
function minorX(grid: number) {
  return {
    type: "value",
    gridIndex: grid,
    position: "bottom",
    min: -1.1,
    max: 1.1,
    interval: 0.05,
    axisLine: { show: false, onZero: false },
    axisTick: { show: true, length: 8, lineStyle: minorLine },
    axisLabel: { show: false },
    splitLine: { show: false },
  };
}

export default function App() {
  const ref = useRef<HTMLDivElement>(null);
  useEffect(() => {
    if (!ref.current) return;
    const chart = echarts.init(ref.current, undefined, { renderer: "svg" });
    const bigEdge = "rgba(0,0,0,0.7)";
    chart.setOption({
      animation: false,
      backgroundColor: "#d6d6d6",
      grid: [
        { left: 228, top: 57, width: 1955, height: 591, show: true, borderColor: "#000", borderWidth: 2, backgroundColor: "transparent" },
        { left: 228, top: 743, width: 1955, height: 591, show: true, borderColor: "#000", borderWidth: 2, backgroundColor: "transparent" },
      ],
      xAxis: [mainX(0), minorX(0), mainX(1, "y [kpc]"), minorX(1)],
      yAxis: [
        {
          type: "value",
          gridIndex: 0,
          min: -150,
          max: 150,
          interval: 50,
          name: "{i|v}{s|los}{i| [km.s}{p|\u22121}{i|]}",
          nameLocation: "middle",
          nameRotate: 90,
          nameGap: 131,
          nameTextStyle: {
            color: "#000",
            fontFamily: SERIF,
            fontSize: 32,
            rich: {
              i: { fontFamily: SERIF, fontSize: 32, lineHeight: 44, color: "#000" },
              s: { fontFamily: SERIF, fontSize: 22, fontStyle: "italic", lineHeight: 22, verticalAlign: "bottom", color: "#000" },
              p: { fontFamily: SERIF, fontSize: 22, lineHeight: 22, verticalAlign: "top", color: "#000" },
            },
          },
          axisLine: { show: false, onZero: false },
          axisTick: { show: true, length: 13, lineStyle: tickLine },
          minorTick: { show: true, splitNumber: 2, length: 8, lineStyle: minorLine },
          axisLabel: { ...labelStyle, margin: 26, formatter: (v: number) => minus(String(v)) },
          splitLine: { show: false },
          minorSplitLine: { show: false },
        },
        {
          type: "value",
          gridIndex: 1,
          inverse: true,
          min: -0.5,
          max: 0.5,
          name: "x [kpc]",
          nameLocation: "middle",
          nameRotate: 90,
          nameGap: 122,
          nameTextStyle: { color: "#000", fontFamily: SERIF, fontSize: 32 },
          axisLine: { show: false, onZero: false },
          axisTick: { show: true, customValues: X_KPC_TICKS, length: 13, lineStyle: tickLine },
          axisLabel: { ...labelStyle, margin: 26, customValues: X_KPC_TICKS, formatter: (v: number) => minus(v.toFixed(1)) },
          splitLine: { show: false },
        },
        {
          type: "value",
          gridIndex: 1,
          inverse: true,
          min: -0.5,
          max: 0.5,
          interval: 0.05,
          position: "left",
          axisLine: { show: false, onZero: false },
          axisTick: { show: true, length: 8, lineStyle: minorLine },
          axisLabel: { show: false },
          splitLine: { show: false },
        },
      ],
      legend: {
        left: 1889,
        top: 73,
        orient: "vertical",
        selectedMode: false,
        padding: [9, 14, 13, 45],
        itemGap: 8,
        itemWidth: 8,
        itemHeight: 8,
        icon: "circle",
        borderColor: "#cccccc",
        borderWidth: 2.5,
        borderRadius: 8,
        backgroundColor: "#ffffff",
        textStyle: { fontFamily: SERIF, fontSize: 34, color: "#000", lineHeight: 40, padding: [0, 0, 0, 51] },
        data: [
          { name: "Barless", itemStyle: { color: BLUE, borderColor: "#222", borderWidth: 1 } },
          { name: "Slow bar", itemStyle: { color: GREEN, borderColor: "#222", borderWidth: 1 } },
        ],
      },
      graphic: [
        { type: "rect", z: -100, silent: true, shape: { x: 11, y: 6, width: 2211, height: 1470 }, style: { fill: "#ffffff" } },
        {
          type: "text", z: 100, silent: true, x: 337, y: 114,
          style: { text: "Slow-bar", fill: GREEN, fontSize: 44, fontFamily: "Liberation Sans", verticalAlign: "middle" },
        },
        {
          type: "text", z: 100, silent: true, x: 1767, y: 543,
          style: { text: "Barless/fast-bar", fill: BLUE, fontSize: 44, fontFamily: "Liberation Sans", verticalAlign: "middle" },
        },
      ],
      series: [
        bandSeries(TOP_SLOW_BAND, 0, 0),
        bandSeries(TOP_BARLESS_BAND, 0, 0),
        bandSeries(BOT_BARLESS_BAND, 2, 1),
        bandSeries(BOT_SLOW_BAND, 2, 1),
        scatter("sim", TOP_SIM_TRI, 0, 0, 12, { color: "rgba(211,211,211,0.6)" }, "triangle"),
        scatter("sim", BOT_SIM_TRI, 2, 1, 12, { color: "rgba(211,211,211,0.6)" }, "triangle"),
        scatter("Slow bar", TOP_SLOW_SMALL, 0, 0, 5, { color: "rgba(0,128,0,0.85)" }),
        scatter("Barless", TOP_BARLESS_SMALL, 0, 0, 5, { color: "rgba(65,105,225,0.85)" }),
        scatter("Slow bar", TOP_SLOW_BIG, 0, 0, 10.5, { color: "rgba(0,108,0,0.88)" }),
        scatter("Barless", TOP_BARLESS_BIG, 0, 0, 10.5, { color: "rgba(65,105,225,0.88)" }),
        scatter("Slow bar", BOT_SLOW_SMALL, 2, 1, 6, { color: "rgba(0,128,0,0.8)" }),
        scatter("Barless", BOT_BARLESS_SMALL, 2, 1, 6, { color: "rgba(65,105,225,0.8)" }),
        scatter("Slow bar", BOT_SLOW_BIG, 2, 1, 11, { color: "rgba(0,100,0,0.8)", borderColor: bigEdge, borderWidth: 1.5 }),
        scatter("Barless", BOT_BARLESS_BIG, 2, 1, 11, { color: "rgba(60,98,215,0.85)", borderColor: bigEdge, borderWidth: 1.5 }),
      ],
    });
    return () => chart.dispose();
  }, []);
  return <div ref={ref} style={{ position: "absolute", left: 0, top: 0, width: 2228, height: 1470 }} />;
}
